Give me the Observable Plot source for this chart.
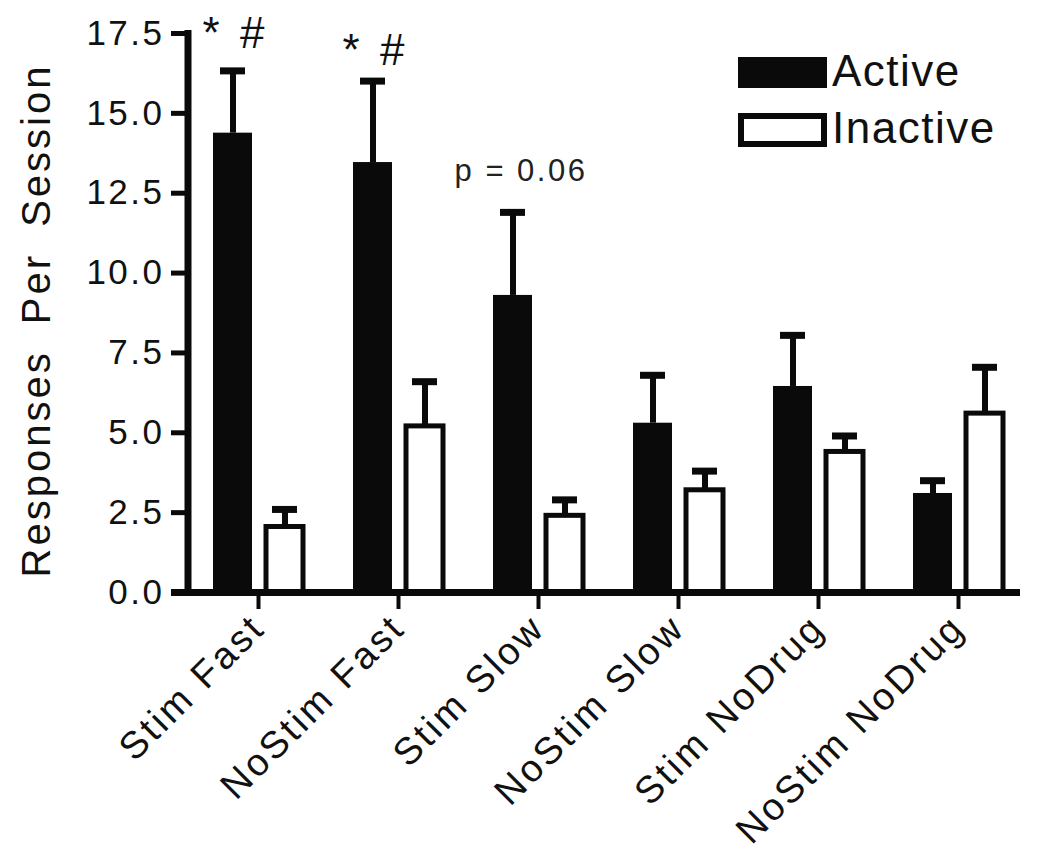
<!DOCTYPE html>
<html><head><meta charset="utf-8">
<script src="https://cdn.jsdelivr.net/npm/d3@7"></script>
<script src="https://cdn.jsdelivr.net/npm/@observablehq/plot@0.6"></script>
<style>
html,body{margin:0;padding:0;background:#fff;}
#chart{width:1050px;height:864px;}
svg text{font-family:"Liberation Sans", Arial, Helvetica, sans-serif;}
g[aria-label="y-axis tick label"] text{letter-spacing:2.5px;}
g[aria-label="fx-axis tick label"] text{letter-spacing:3px;}
</style></head><body><div id="chart"></div>
<script>
const groups = ["Stim Fast","NoStim Fast","Stim Slow","NoStim Slow","Stim NoDrug","NoStim NoDrug"];
const seriesNames = ["Active","Inactive"];
const activeMeans = [14.38, 13.46, 9.3, 5.3, 6.45, 3.1];
const activeSEM   = [1.95, 2.55, 2.6, 1.5, 1.6, 0.4];
const inactiveMeans = [2.05, 5.2, 2.4, 3.2, 4.4, 5.6];
const inactiveSEM   = [0.55, 1.4, 0.5, 0.6, 0.5, 1.45];
const yTicks = [0, 2.5, 5, 7.5, 10, 12.5, 15, 17.5];
const yLabel = "Responses Per Session";
const starGroups = ["Stim Fast","NoStim Fast"];
const starLabels = ["* #","* #"];
const starY = [17.5, 16.95];
const pGroups = ["Stim Slow"];
const pLabels = ["p = 0.06"];
const pY = [13.2];

const rows = groups.flatMap((g, i) => [
  {group: g, type: seriesNames[0], value: activeMeans[i], err: activeSEM[i]},
  {group: g, type: seriesNames[1], value: inactiveMeans[i], err: inactiveSEM[i]}
]);
const act = rows.filter(d => d.type === seriesNames[0]);
const inact = rows.filter(d => d.type === seriesNames[1]);
const stars = starGroups.map((g, i) => ({group: g, type: seriesNames[0], label: starLabels[i], y: starY[i]}));
const pvals = pGroups.map((g, i) => ({group: g, type: seriesNames[0], label: pLabels[i], y: pY[i]}));

const INK = "#0a0a0a";
const plot = Plot.plot({
  width: 1050, height: 864,
  marginLeft: 188, marginRight: 22, marginTop: 33, marginBottom: 272,
  style: {fontFamily: "'Liberation Sans', Arial, sans-serif", color: "#111", background: "white"},
  fx: {domain: groups, paddingInner: 0, paddingOuter: 0, label: null},
  x: {domain: seriesNames, paddingInner: 0.257, paddingOuter: 0.462, axis: null, label: null},
  y: {domain: [0, 17.5], label: null},
  marks: [
    Plot.barY(act, {fx: "group", x: "type", y: "value", fill: INK}),
    Plot.barY(inact, {fx: "group", x: "type", y: "value", fill: "white", stroke: INK, strokeWidth: 5, insetLeft: 1, insetRight: 1}),
    Plot.ruleX(rows, {fx: "group", x: "type", y1: "value", y2: d => d.value + d.err, stroke: INK, strokeWidth: 6}),
    Plot.tickY(rows, {fx: "group", x: "type", y: d => d.value + d.err, stroke: INK, strokeWidth: 7, insetLeft: 7, insetRight: 7}),
    Plot.ruleY([0], {stroke: INK, strokeWidth: 7, insetLeft: -17, insetRight: 8}),
    Plot.axisY({ticks: yTicks, tickFormat: d3.format(".1f"), tickSize: 17, tickPadding: 7, fontSize: 35, strokeWidth: 5, stroke: INK, label: null}),
    Plot.axisFx({anchor: "bottom", tickSize: 17, tickPadding: 12, tickRotate: -45, fontSize: 38, strokeWidth: 4, stroke: INK, label: null}),
    Plot.text(stars, {fx: "group", x: "type", y: "y", text: "label", fontSize: 44, fill: "#111", dx: 2}),
    Plot.text(pvals, {fx: "group", x: "type", y: "y", text: "label", fontSize: 31, dx: 8, fill: "#222"})
  ]
});

const y = plot.scale("y");
const svg = d3.select(plot);
svg.selectAll('g[aria-label="text"] text').each(function () {
  const t = d3.select(this);
  if (t.text().startsWith("*")) t.attr("letter-spacing", "3px").attr("word-spacing", "2px");
  else t.attr("letter-spacing", "2.5px");
});
// vertical axis line
svg.append("line")
  .attr("x1", 188).attr("x2", 188)
  .attr("y1", y.apply(17.5) - 3).attr("y2", y.apply(0))
  .attr("stroke", INK).attr("stroke-width", 7);
// y label
svg.append("text")
  .attr("transform", `translate(50,${(y.apply(0) + y.apply(17.5)) / 2 + 8}) rotate(-90)`)
  .attr("text-anchor", "middle")
  .attr("font-size", 40).attr("letter-spacing", "3px").attr("word-spacing", "12px")
  .attr("fill", "#111")
  .text(yLabel);
// legend
const leg = svg.append("g").attr("aria-label", "legend");
seriesNames.forEach((name, i) => {
  const top = 57 + i * 57;
  if (i === 0) {
    leg.append("rect").attr("x", 738).attr("y", top).attr("width", 89).attr("height", 31).attr("fill", INK);
  } else {
    leg.append("rect").attr("x", 741).attr("y", top + 2).attr("width", 83).attr("height", 28)
      .attr("fill", "white").attr("stroke", INK).attr("stroke-width", 6);
  }
  leg.append("text").attr("x", 832).attr("y", top + 29).attr("text-anchor", "start")
    .attr("font-size", 44).attr("letter-spacing", "1.5px").attr("fill", "#111").text(name);
});

document.getElementById("chart").appendChild(plot);
</script></body></html>
